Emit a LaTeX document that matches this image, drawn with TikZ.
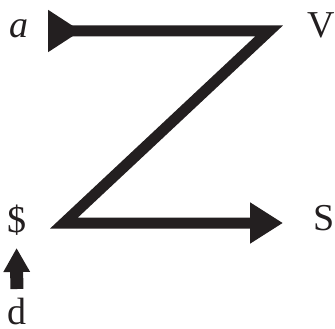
\documentclass[tikz,border=0pt]{standalone}
\usepackage{fontspec}
\setmainfont{Liberation Serif}
\usetikzlibrary{arrows.meta,calc}
\definecolor{ink}{RGB}{35,31,32}
\begin{document}
\begin{tikzpicture}[x=1pt,y=-1pt,
  lbl/.style={inner sep=0pt,anchor=base,text=ink,font=\fontsize{38}{38}\selectfont},
  zline/.style={draw=ink,line width=11pt,miter limit=10,line join=miter},
  uparrow/.style={draw=ink,line width=13pt,-{Triangle[length=24pt,width=25pt]}}]
\useasboundingbox (0,0) rectangle (335,329);
\node[lbl] (a) at (19,38) {\itshape a};
\node[lbl] (V) at (321.5,38) {V};
\node[lbl] (dol) at (16.5,232) {\$};
\node[lbl] (S) at (324.5,230) {S};
\node[lbl] (d) at (17,324) {d};
\coordinate (c1) at (269,31);
\coordinate (c2) at (64,223);
\draw[zline,{Triangle[reversed,length=33pt,width=40pt]}-{Triangle[length=33pt,width=39pt]},shorten <=29pt,shorten >=41.5pt]
  (a.base |- c1) -- (c1) -- (c2) -- (S.base |- c2);
\draw[uparrow,shorten <=35pt,shorten >=16pt] (d.base) -- (dol.base);
\end{tikzpicture}
\end{document}
